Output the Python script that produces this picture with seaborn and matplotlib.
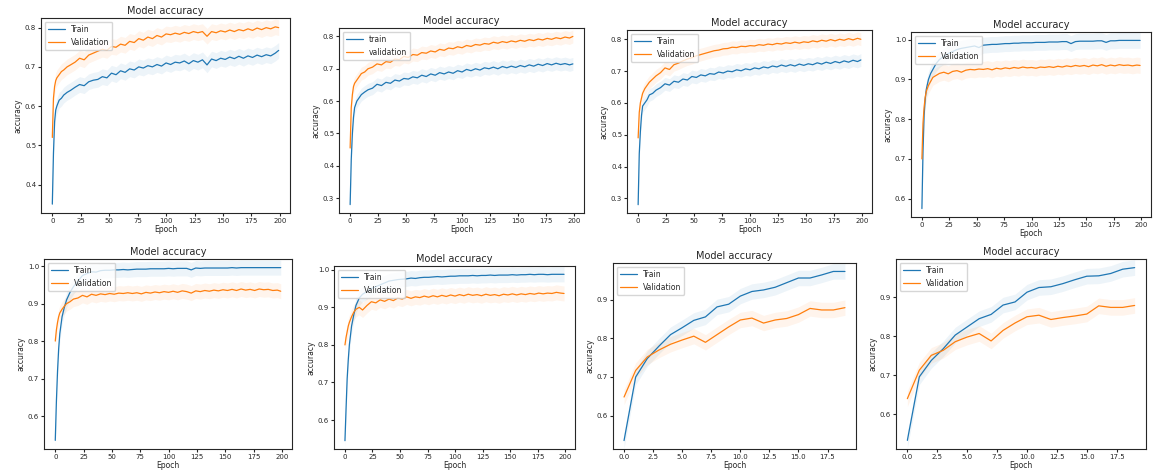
import matplotlib
matplotlib.use("Agg")
import matplotlib.pyplot as plt
import seaborn as sns

sns.set_style("ticks")
plt.rcParams['font.family'] = ['DejaVu Sans']

# epochs logged for the 200-epoch runs (denser at the start)
epochs_200 = [0, 1, 2, 3, 4, 6, 8, 10, 13, 16] + list(range(20, 197, 4)) + [199]
epochs_20 = list(range(20))

train_1 = [0.35, 0.48, 0.56, 0.59, 0.60, 0.615, 0.62, 0.628, 0.635, 0.64,
           0.648, 0.655, 0.652, 0.662, 0.666, 0.668, 0.675, 0.672, 0.684, 0.680,
           0.690, 0.686, 0.695, 0.692, 0.700, 0.697, 0.703, 0.700, 0.706, 0.702,
           0.710, 0.706, 0.712, 0.710, 0.715, 0.708, 0.716, 0.712, 0.718, 0.705,
           0.720, 0.716, 0.722, 0.719, 0.725, 0.721, 0.727, 0.722, 0.728, 0.724,
           0.730, 0.726, 0.731, 0.728, 0.735, 0.742]
val_1 = [0.52, 0.62, 0.65, 0.665, 0.672, 0.68, 0.688, 0.692, 0.70, 0.705,
         0.712, 0.722, 0.718, 0.730, 0.735, 0.740, 0.745, 0.742, 0.752, 0.750,
         0.758, 0.755, 0.765, 0.762, 0.772, 0.768, 0.776, 0.772, 0.780, 0.776,
         0.784, 0.782, 0.786, 0.783, 0.788, 0.785, 0.790, 0.787, 0.790, 0.778,
         0.790, 0.787, 0.792, 0.789, 0.794, 0.790, 0.795, 0.792, 0.797, 0.793,
         0.799, 0.795, 0.800, 0.797, 0.802, 0.800]

train_2 = [0.28, 0.42, 0.50, 0.55, 0.58, 0.60, 0.61, 0.62, 0.628, 0.635,
           0.640, 0.652, 0.648, 0.658, 0.655, 0.665, 0.662, 0.670, 0.668, 0.675,
           0.672, 0.680, 0.676, 0.684, 0.680, 0.688, 0.684, 0.690, 0.686, 0.694,
           0.690, 0.698, 0.694, 0.700, 0.696, 0.703, 0.700, 0.705, 0.700, 0.707,
           0.703, 0.708, 0.704, 0.710, 0.706, 0.712, 0.708, 0.714, 0.710, 0.716,
           0.712, 0.717, 0.713, 0.716, 0.712, 0.715]
val_2 = [0.455, 0.58, 0.62, 0.645, 0.655, 0.665, 0.675, 0.685, 0.69, 0.70,
         0.705, 0.715, 0.712, 0.722, 0.720, 0.730, 0.728, 0.738, 0.735, 0.744,
         0.742, 0.750, 0.748, 0.755, 0.752, 0.760, 0.757, 0.764, 0.762, 0.768,
         0.765, 0.772, 0.769, 0.775, 0.773, 0.778, 0.776, 0.782, 0.779, 0.784,
         0.781, 0.786, 0.783, 0.788, 0.785, 0.790, 0.787, 0.792, 0.789, 0.794,
         0.791, 0.796, 0.793, 0.798, 0.795, 0.800]

train_3 = [0.28, 0.44, 0.51, 0.56, 0.59, 0.60, 0.61, 0.625, 0.63, 0.64,
           0.648, 0.660, 0.656, 0.668, 0.665, 0.675, 0.672, 0.683, 0.680, 0.688,
           0.685, 0.692, 0.690, 0.697, 0.694, 0.700, 0.698, 0.704, 0.701, 0.707,
           0.704, 0.710, 0.707, 0.713, 0.710, 0.716, 0.713, 0.719, 0.715, 0.720,
           0.716, 0.722, 0.718, 0.723, 0.720, 0.726, 0.722, 0.728, 0.724, 0.730,
           0.726, 0.732, 0.728, 0.734, 0.730, 0.735]
val_3 = [0.49, 0.57, 0.60, 0.615, 0.63, 0.645, 0.655, 0.665, 0.675, 0.685,
         0.695, 0.710, 0.705, 0.720, 0.725, 0.732, 0.738, 0.742, 0.748, 0.752,
         0.756, 0.760, 0.764, 0.766, 0.770, 0.771, 0.775, 0.774, 0.778, 0.777,
         0.780, 0.779, 0.783, 0.781, 0.785, 0.783, 0.787, 0.785, 0.789, 0.787,
         0.791, 0.788, 0.792, 0.790, 0.795, 0.792, 0.797, 0.794, 0.799, 0.795,
         0.800, 0.797, 0.802, 0.798, 0.803, 0.800]

train_4 = [0.575, 0.72, 0.81, 0.85, 0.875, 0.90, 0.915, 0.925, 0.94, 0.95,
           0.958, 0.965, 0.970, 0.975, 0.978, 0.980, 0.982, 0.984, 0.980, 0.986,
           0.987, 0.988, 0.988, 0.989, 0.990, 0.990, 0.991, 0.991, 0.992, 0.992,
           0.992, 0.993, 0.993, 0.993, 0.994, 0.994, 0.994, 0.995, 0.995, 0.990,
           0.995, 0.996, 0.996, 0.996, 0.996, 0.997, 0.997, 0.993, 0.997, 0.997,
           0.998, 0.998, 0.998, 0.998, 0.998, 0.998]
val_4 = [0.70, 0.79, 0.83, 0.855, 0.87, 0.885, 0.895, 0.905, 0.91, 0.915,
         0.918, 0.914, 0.920, 0.922, 0.918, 0.923, 0.925, 0.924, 0.926, 0.925,
         0.927, 0.924, 0.928, 0.926, 0.929, 0.927, 0.930, 0.928, 0.931, 0.929,
         0.930, 0.928, 0.931, 0.930, 0.932, 0.930, 0.933, 0.931, 0.934, 0.932,
         0.935, 0.933, 0.935, 0.932, 0.936, 0.934, 0.937, 0.933, 0.936, 0.934,
         0.937, 0.935, 0.936, 0.934, 0.936, 0.935]

train_5 = [0.535, 0.64, 0.72, 0.78, 0.82, 0.865, 0.89, 0.91, 0.93, 0.945,
           0.960, 0.975, 0.980, 0.985, 0.984, 0.988, 0.989, 0.989, 0.990, 0.990,
           0.991, 0.990, 0.991, 0.992, 0.992, 0.992, 0.993, 0.993, 0.993, 0.993,
           0.994, 0.993, 0.994, 0.994, 0.994, 0.990, 0.995, 0.994, 0.995, 0.995,
           0.995, 0.995, 0.995, 0.995, 0.996, 0.995, 0.996, 0.996, 0.996, 0.996,
           0.996, 0.996, 0.996, 0.996, 0.996, 0.996]
val_5 = [0.80, 0.83, 0.85, 0.865, 0.875, 0.885, 0.893, 0.90, 0.905, 0.912,
         0.915, 0.922, 0.918, 0.925, 0.922, 0.926, 0.924, 0.927, 0.925, 0.928,
         0.927, 0.929, 0.927, 0.929, 0.926, 0.930, 0.928, 0.931, 0.929, 0.932,
         0.930, 0.933, 0.930, 0.934, 0.932, 0.928, 0.934, 0.932, 0.935, 0.933,
         0.936, 0.934, 0.937, 0.935, 0.938, 0.935, 0.939, 0.936, 0.938, 0.935,
         0.939, 0.937, 0.938, 0.935, 0.936, 0.933]

train_6 = [0.545, 0.63, 0.71, 0.76, 0.80, 0.85, 0.88, 0.905, 0.925, 0.935,
           0.942, 0.950, 0.955, 0.960, 0.965, 0.970, 0.972, 0.974, 0.975, 0.976,
           0.978, 0.977, 0.979, 0.980, 0.980, 0.981, 0.982, 0.981, 0.982, 0.983,
           0.983, 0.984, 0.984, 0.984, 0.985, 0.984, 0.985, 0.985, 0.986, 0.985,
           0.986, 0.986, 0.986, 0.987, 0.986, 0.987, 0.987, 0.988, 0.987, 0.988,
           0.988, 0.987, 0.988, 0.988, 0.988, 0.988]
val_6 = [0.80, 0.82, 0.835, 0.85, 0.86, 0.875, 0.887, 0.895, 0.90, 0.893,
         0.905, 0.915, 0.912, 0.920, 0.916, 0.922, 0.918, 0.925, 0.922, 0.928,
         0.924, 0.928, 0.926, 0.930, 0.927, 0.931, 0.928, 0.932, 0.929, 0.933,
         0.930, 0.934, 0.931, 0.935, 0.932, 0.934, 0.931, 0.935, 0.932, 0.934,
         0.931, 0.935, 0.933, 0.936, 0.933, 0.936, 0.934, 0.937, 0.935, 0.938,
         0.936, 0.938, 0.937, 0.940, 0.938, 0.937]

train_7 = [0.535, 0.70, 0.748, 0.78, 0.81, 0.828, 0.847, 0.856, 0.882, 0.889,
           0.91, 0.922, 0.926, 0.933, 0.945, 0.957, 0.957, 0.965, 0.974, 0.974]
val_7 = [0.648, 0.717, 0.752, 0.77, 0.785, 0.796, 0.806, 0.79, 0.81, 0.83,
         0.848, 0.853, 0.84, 0.848, 0.852, 0.862, 0.878, 0.874, 0.874, 0.88]

train_8 = [0.533, 0.696, 0.738, 0.768, 0.803, 0.824, 0.845, 0.856, 0.88, 0.888,
           0.913, 0.925, 0.927, 0.935, 0.945, 0.954, 0.955, 0.961, 0.972, 0.976]
val_8 = [0.64, 0.713, 0.751, 0.764, 0.786, 0.798, 0.807, 0.788, 0.815, 0.834,
         0.85, 0.854, 0.843, 0.848, 0.852, 0.857, 0.878, 0.874, 0.874, 0.879]

runs = [
    (epochs_200, train_1, val_1, "Train", "Validation"),
    (epochs_200, train_2, val_2, "train", "validation"),
    (epochs_200, train_3, val_3, "Train", "Validation"),
    (epochs_200, train_4, val_4, "Train", "Validation"),
    (epochs_200, train_5, val_5, "Train", "Validation"),
    (epochs_200, train_6, val_6, "Train", "Validation"),
    (epochs_20, train_7, val_7, "Train", "Validation"),
    (epochs_20, train_8, val_8, "Train", "Validation"),
]

# axes boxes in pixels: left, top, right, bottom
boxes = [(41, 18, 290, 213), (339, 28, 584, 213), (627, 30, 872, 213), (911, 32, 1151, 217),
         (44, 259, 292, 449), (334, 266, 575, 449), (613, 263, 856, 449), (896, 259, 1146, 449)]

W, H = 1153, 473
fig = plt.figure(figsize=(W / 100, H / 100), dpi=100)

for (ep, tr, va, lab_t, lab_v), (l, t, r, b) in zip(runs, boxes):
    ax = fig.add_axes([l / W, 1 - b / H, (r - l) / W, (b - t) / H])
    sns.lineplot(x=ep, y=tr, ax=ax, color="#1f77b4", linewidth=0.9, label=lab_t)
    sns.lineplot(x=ep, y=va, ax=ax, color="#ff7f0e", linewidth=0.9, label=lab_v)
    lim = ax.get_ylim()
    # faint bands like the blurred shading in the original
    ax.fill_between(ep, [v - 0.02 for v in tr], [v + 0.02 for v in tr], color="#1f77b4", alpha=0.08, lw=0)
    ax.fill_between(ep, [v - 0.02 for v in va], [v + 0.02 for v in va], color="#ff7f0e", alpha=0.08, lw=0)
    ax.set_ylim(lim)
    ax.set_title("Model accuracy", fontsize=7, pad=3)
    ax.set_xlabel("Epoch", fontsize=5.5, labelpad=1)
    ax.set_ylabel("accuracy", fontsize=5.5, labelpad=2)
    ax.tick_params(labelsize=5, length=2, pad=1.5)
    ax.legend(loc="upper left", fontsize=5.5, frameon=True, handlelength=2.2, borderpad=0.4)

fig.savefig("out.png", dpi=100)
